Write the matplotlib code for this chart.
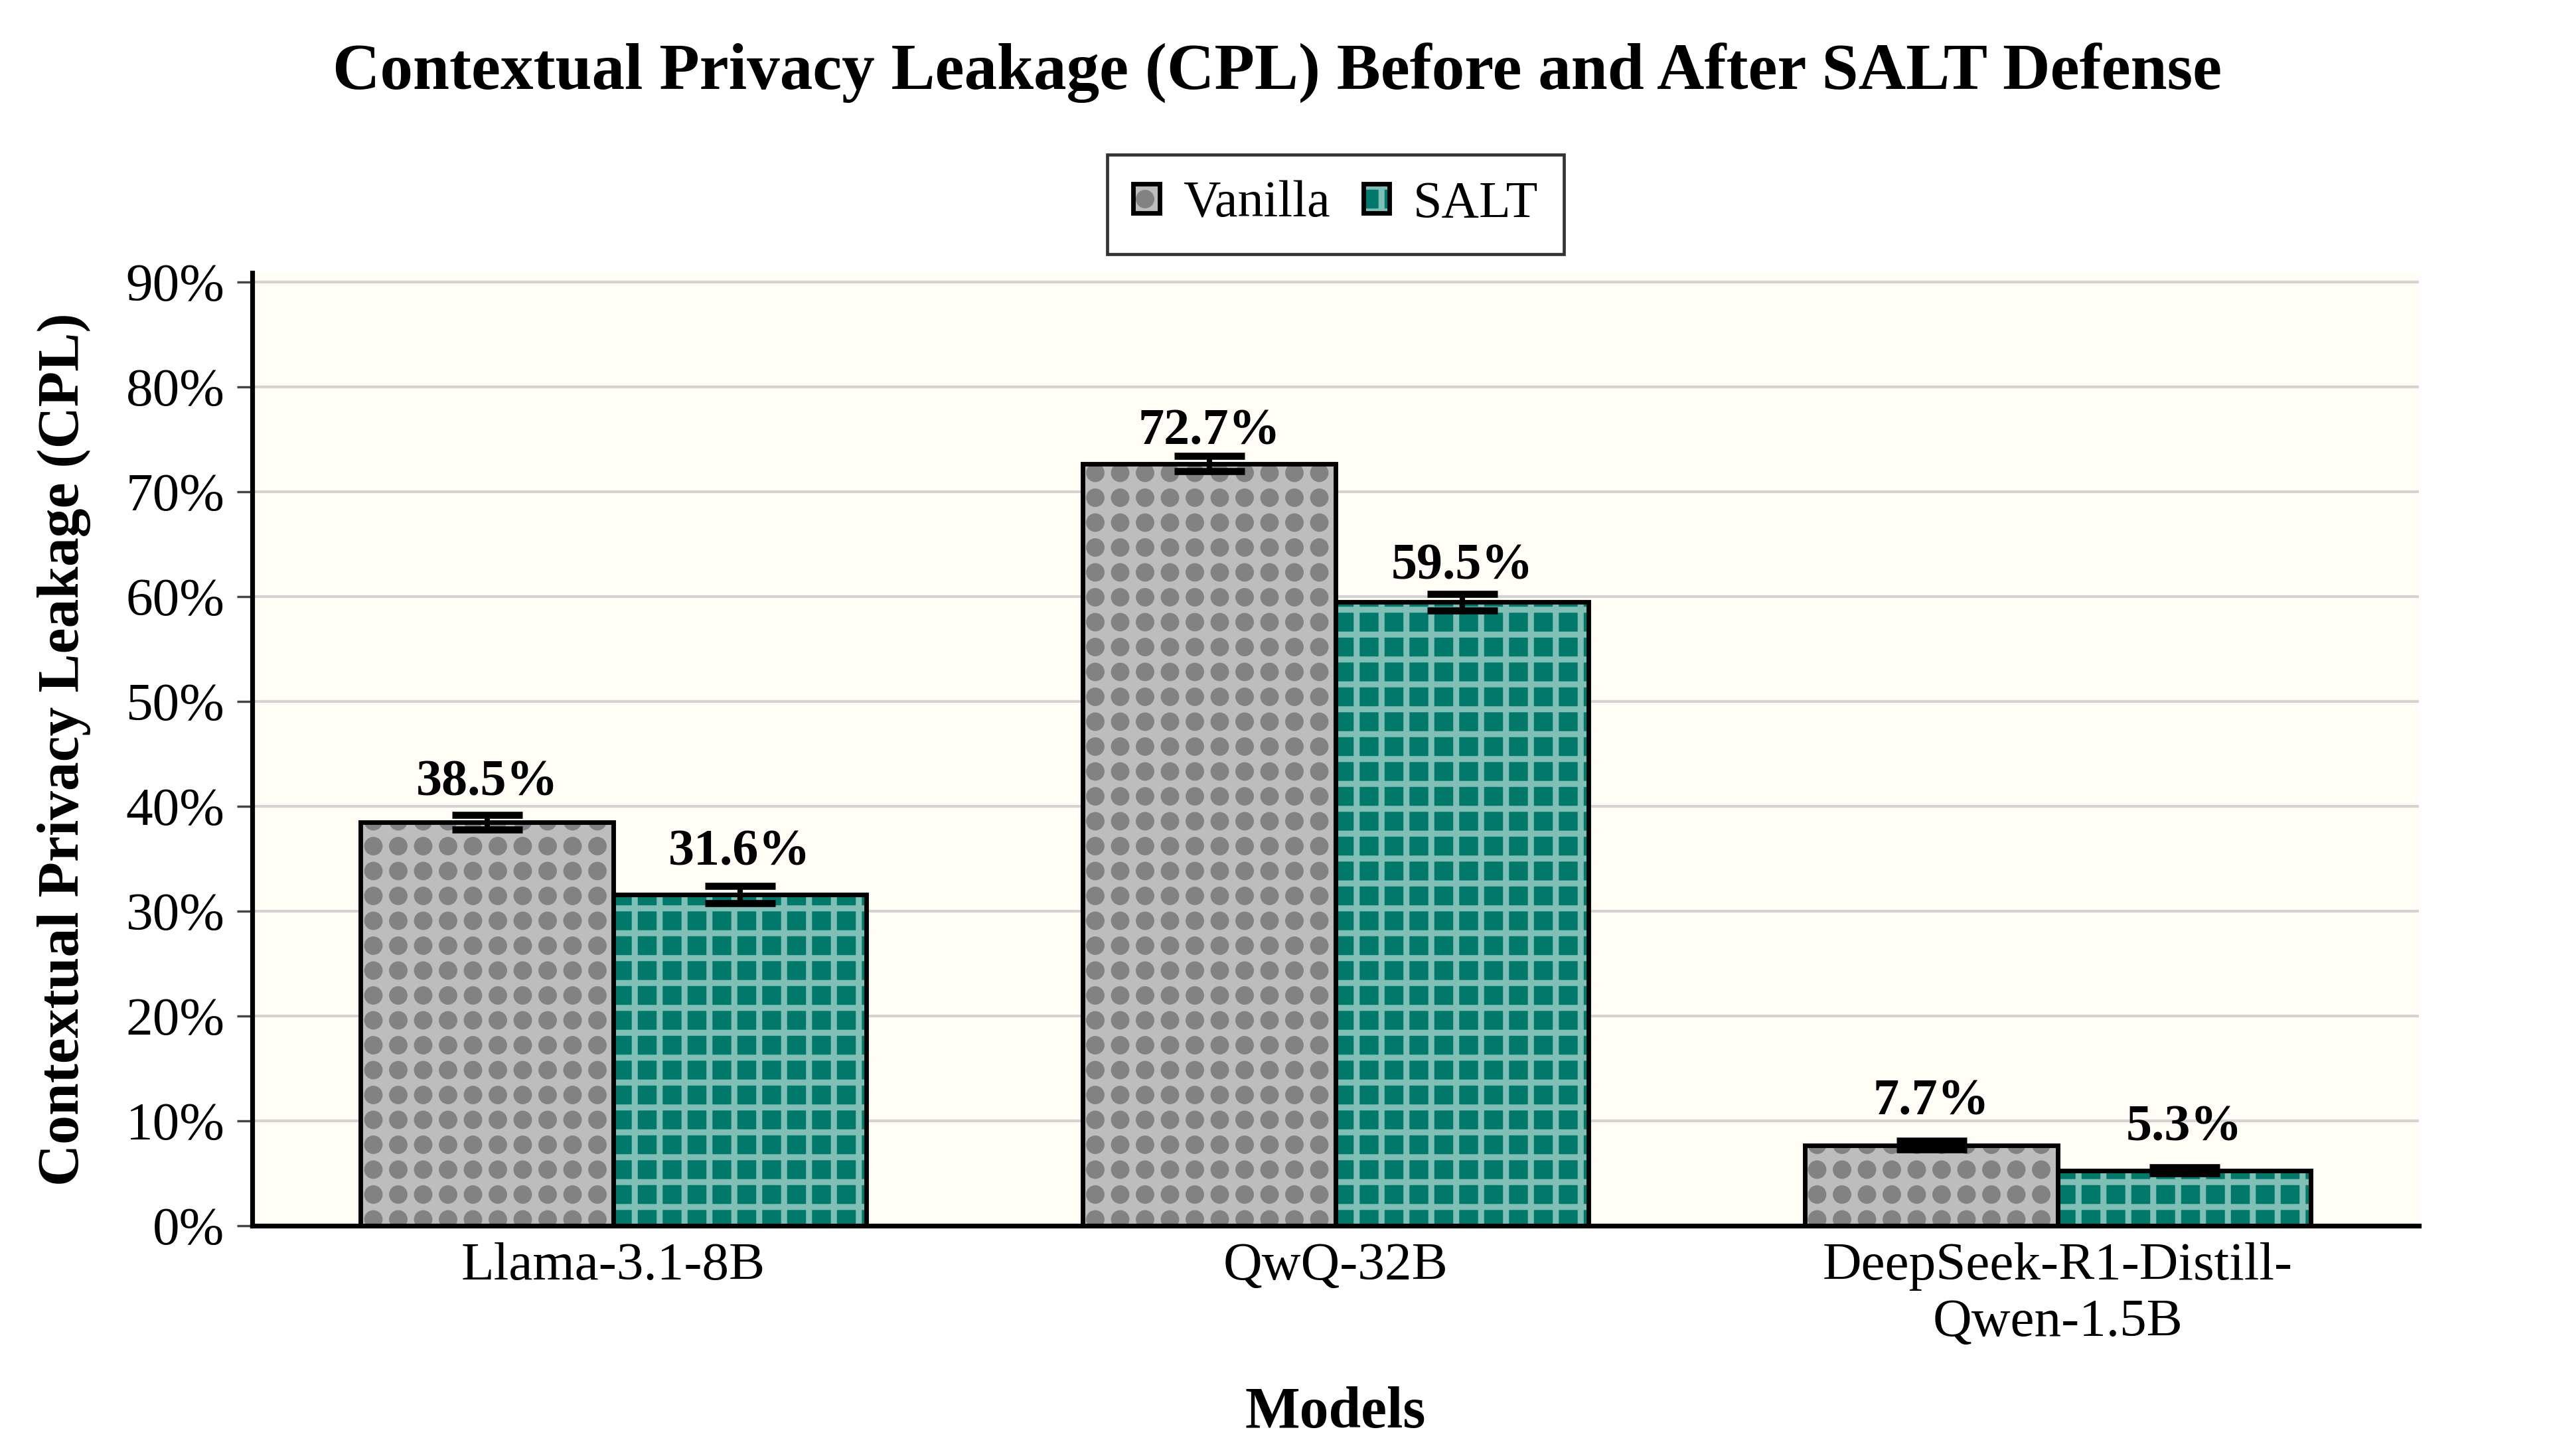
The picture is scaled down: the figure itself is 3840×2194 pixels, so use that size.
import numpy as np
import matplotlib
matplotlib.use('Agg')
import matplotlib.pyplot as plt
import matplotlib.hatch as mhatch
from matplotlib.path import Path
from matplotlib.ticker import FuncFormatter

# data
models = ['Llama-3.1-8B', 'QwQ-32B', 'DeepSeek-R1-Distill-\nQwen-1.5B']
vanilla = [38.5, 72.7, 7.7]
vanilla_err = [0.7, 0.75, 0.4]
salt = [31.6, 59.5, 5.3]
salt_err = [0.8, 0.8, 0.3]
series_names = ['Vanilla', 'SALT']


# square grid of filled dots for the '.' hatch (default one is staggered and tiny)
class GridDots(mhatch.HatchPatternBase):
    def __init__(self, hatch, density):
        self.num_rows = int(hatch.count('.') * density)
        circle = Path.unit_circle()
        self.shape_vertices = circle.vertices
        self.shape_codes = circle.codes
        if self.num_rows:
            self.num_vertices = (self.num_rows + 1) ** 2 * len(circle.vertices)
        else:
            self.num_vertices = 0

    def set_vertices_and_codes(self, vertices, codes):
        offset = 1.0 / self.num_rows
        shape = self.shape_vertices * offset * 0.25
        n = len(shape)
        cur = 0
        for r in range(self.num_rows + 1):
            for c in range(self.num_rows + 1):
                vertices[cur:cur + n] = shape + [c * offset, r * offset]
                codes[cur:cur + n] = self.shape_codes
                cur += n


mhatch._hatch_types = [GridDots if t is mhatch.SmallFilledCircles else t
                       for t in mhatch._hatch_types]

plt.rcParams['font.family'] = 'serif'
plt.rcParams['font.serif'] = ['Liberation Serif', 'DejaVu Serif']
plt.rcParams['hatch.linewidth'] = 2.9

DPI = 225
fig = plt.figure(figsize=(3840 / DPI, 2194 / DPI), dpi=DPI)
ax = fig.add_axes([0.099, 0.158, 0.85, 0.6545])
ax.set_facecolor('#fffdf6')

x = np.arange(len(models))
w = 0.35

# hatched fill, then black outline on top
fill_v = ax.bar(x - w / 2, vanilla, w, color='#bdbdbd', edgecolor='#828282',
                linewidth=0, hatch='.', zorder=2)
fill_s = ax.bar(x + w / 2, salt, w, color='#00796b', edgecolor='#80bfb6',
                linewidth=0, hatch='+', zorder=2)
edge_v = ax.bar(x - w / 2, vanilla, w, facecolor='none', edgecolor='black',
                linewidth=2.2, zorder=3)
edge_s = ax.bar(x + w / 2, salt, w, facecolor='none', edgecolor='black',
                linewidth=2.2, zorder=3)

ax.errorbar(x - w / 2, vanilla, yerr=vanilla_err, fmt='none', ecolor='black',
            elinewidth=2.6, capsize=17, capthick=3.4, zorder=4)
ax.errorbar(x + w / 2, salt, yerr=salt_err, fmt='none', ecolor='black',
            elinewidth=2.6, capsize=17, capthick=3.4, zorder=4)

# value labels, sitting a little higher over the short bars
for xs, vals, errs in [(x - w / 2, vanilla, vanilla_err), (x + w / 2, salt, salt_err)]:
    for xi, v, e in zip(xs, vals, errs):
        ax.text(xi, v + e + 2.7 - 0.022 * v, f'{v:.1f}%', ha='center', va='baseline',
                fontsize=25, fontweight='bold', zorder=5)

ax.set_xlim(-0.5, 2.5)
ax.set_ylim(0, max(vanilla) * 1.25)
ax.set_yticks(np.arange(0, 91, 10))
ax.yaxis.set_major_formatter(FuncFormatter(lambda v, p: f'{v:.0f}%'))
ax.set_xticks(x)
ax.set_xticklabels(models)

ax.tick_params(axis='y', labelsize=26, length=7.4, width=1.1, color='#444444', pad=6)
ax.tick_params(axis='x', labelsize=26, length=0, pad=8)

ax.yaxis.grid(True, color='#d3d3d3', linewidth=1.3)
ax.set_axisbelow(True)

for s in ['top', 'right']:
    ax.spines[s].set_visible(False)
for s in ['left', 'bottom']:
    ax.spines[s].set_linewidth(2.3)
    ax.spines[s].set_color('black')

ax.set_ylabel('Contextual Privacy Leakage (CPL)', fontsize=28, fontweight='bold')
ax.yaxis.set_label_coords(-0.0744, 0.5)
ax.set_xlabel('Models', fontsize=28, fontweight='bold')
ax.xaxis.set_label_coords(0.5, -0.168)

fig.suptitle('Contextual Privacy Leakage (CPL) Before and After SALT Defense',
             x=0.501, y=1 - 135 / 2194, va='baseline', fontsize=31.7, fontweight='bold')

handles = [(fill_v[0], edge_v[0]), (fill_s[0], edge_s[0])]
leg = ax.legend(handles, series_names, loc='lower center', bbox_to_anchor=(0.5, 1.02),
                borderaxespad=0, ncol=2, fontsize=25, frameon=True, fancybox=False,
                handlelength=0.5, handleheight=0.5, handletextpad=0.45,
                columnspacing=0.65, borderpad=0.5)
leg.get_frame().set_edgecolor('black')
leg.get_frame().set_linewidth(1.5)

fig.savefig('out.png', dpi=DPI, facecolor='white')
